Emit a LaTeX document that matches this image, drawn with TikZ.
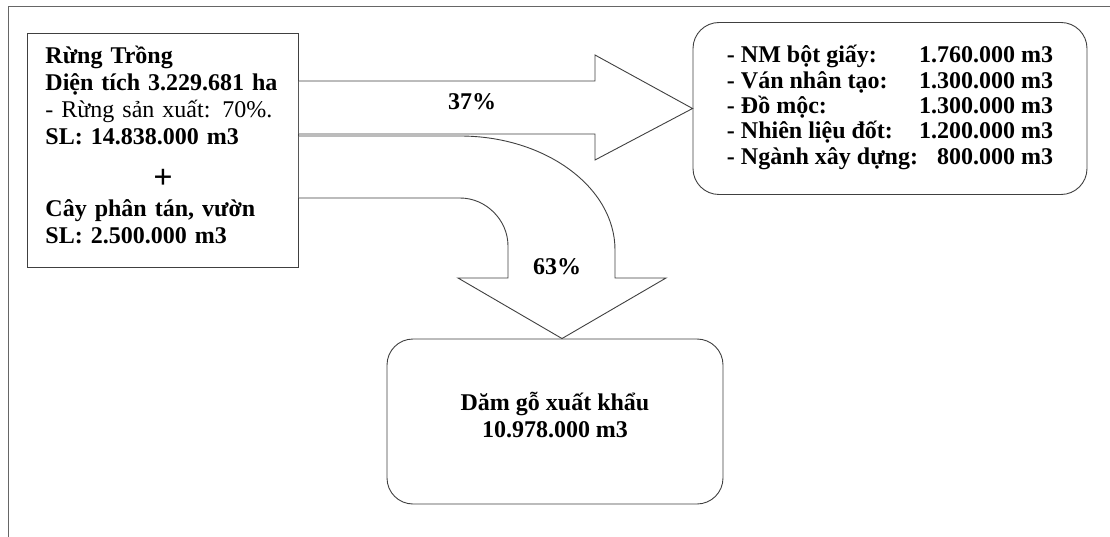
\documentclass[tikz,border=0pt]{standalone}
\usepackage{fontspec}
\setmainfont{Liberation Serif}
\usetikzlibrary{calc,positioning}

\tikzset{
  boxline/.style={draw=black!75, line width=0.9pt},
  sourcebox/.style={boxline, fill=white, minimum width=271pt, minimum height=234pt, anchor=north west},
  roundbox/.style={boxline, fill=white, rounded corners=26pt},
  blockarrow/.style={boxline, fill=white, line join=miter},
  pct/.style={font=\fontsize{24}{27}\selectfont\bfseries},
}

\begin{document}
\begin{tikzpicture}[x=1pt, y=-1pt, font=\fontsize{24}{27}\selectfont\bfseries]
  % Page size and outer frame
  \useasboundingbox (0,0) rectangle (1110,537);
  \draw[black!60, line width=0.9pt] (8,537) -- (8,6) -- (1110,6);

  % Source: planted forest
  \node[sourcebox] (forest) at (27,33) {};
  \node[text width=235pt, align=left, inner sep=0pt] (forestText) at ($(forest.center)+(0,-6)$) {%
    Rừng Trồng\\
    Diện tích 3.229.681 ha\\
    {\mdseries - Rừng sản xuất: 70\%.}\\
    SL: 14.838.000 m3\\[17pt]
    \makebox[235pt]{\fontsize{34}{34}\selectfont +}\\[1pt]
    Cây phân tán, vườn\\
    SL: 2.500.000 m3};

  % Domestic uses
  \node[roundbox, minimum width=394pt, minimum height=172pt] (uses) at (890,108.5) {%
    \renewcommand{\arraystretch}{0.94}%
    \begin{tabular}{@{}l@{\hspace{1pt}}r@{}}
      - NM bột giấy: & 1.760.000 m3\\
      - Ván nhân tạo: & 1.300.000 m3\\
      - Đồ mộc: & 1.300.000 m3\\
      - Nhiên liệu đốt: & 1.200.000 m3\\
      - Ngành xây dựng: & 800.000 m3
    \end{tabular}};

  % Export chips
  \node[roundbox, minimum width=336pt, minimum height=165pt] (chips) at (555,421.5) {};
  \node[align=center] (chipsText) at ($(chips.center)+(0,-6)$) {Dăm gỗ xuất khẩu\\10.978.000 m3};

  % Curved arrow down to the chips (63%)
  \coordinate (tipB) at ($(chips.north)+(7,0)$);
  \filldraw[blockarrow] (forest.east |- 0,136) -- (460,136)
    .. controls (545,136) and (615,187) .. (615,250) -- (615,278)
    -- (666,278) -- (tipB) -- (458,278) -- (508,278) -- (508,246)
    .. controls (508,220) and (486,198) .. (460,198)
    -- (forest.east |- 0,198);

  % Straight arrow to the domestic uses (37%)
  \filldraw[blockarrow] (forest.east |- 0,81) -- (595,81) -- (595,55)
    -- (uses.west) -- (595,160) -- (595,134) -- (forest.east |- 0,134);

  % Percentages
  \node[pct] (shareA) at (472,102) {37\%};
  \node[pct] (shareB) at (557,267) {63\%};
\end{tikzpicture}
\end{document}
